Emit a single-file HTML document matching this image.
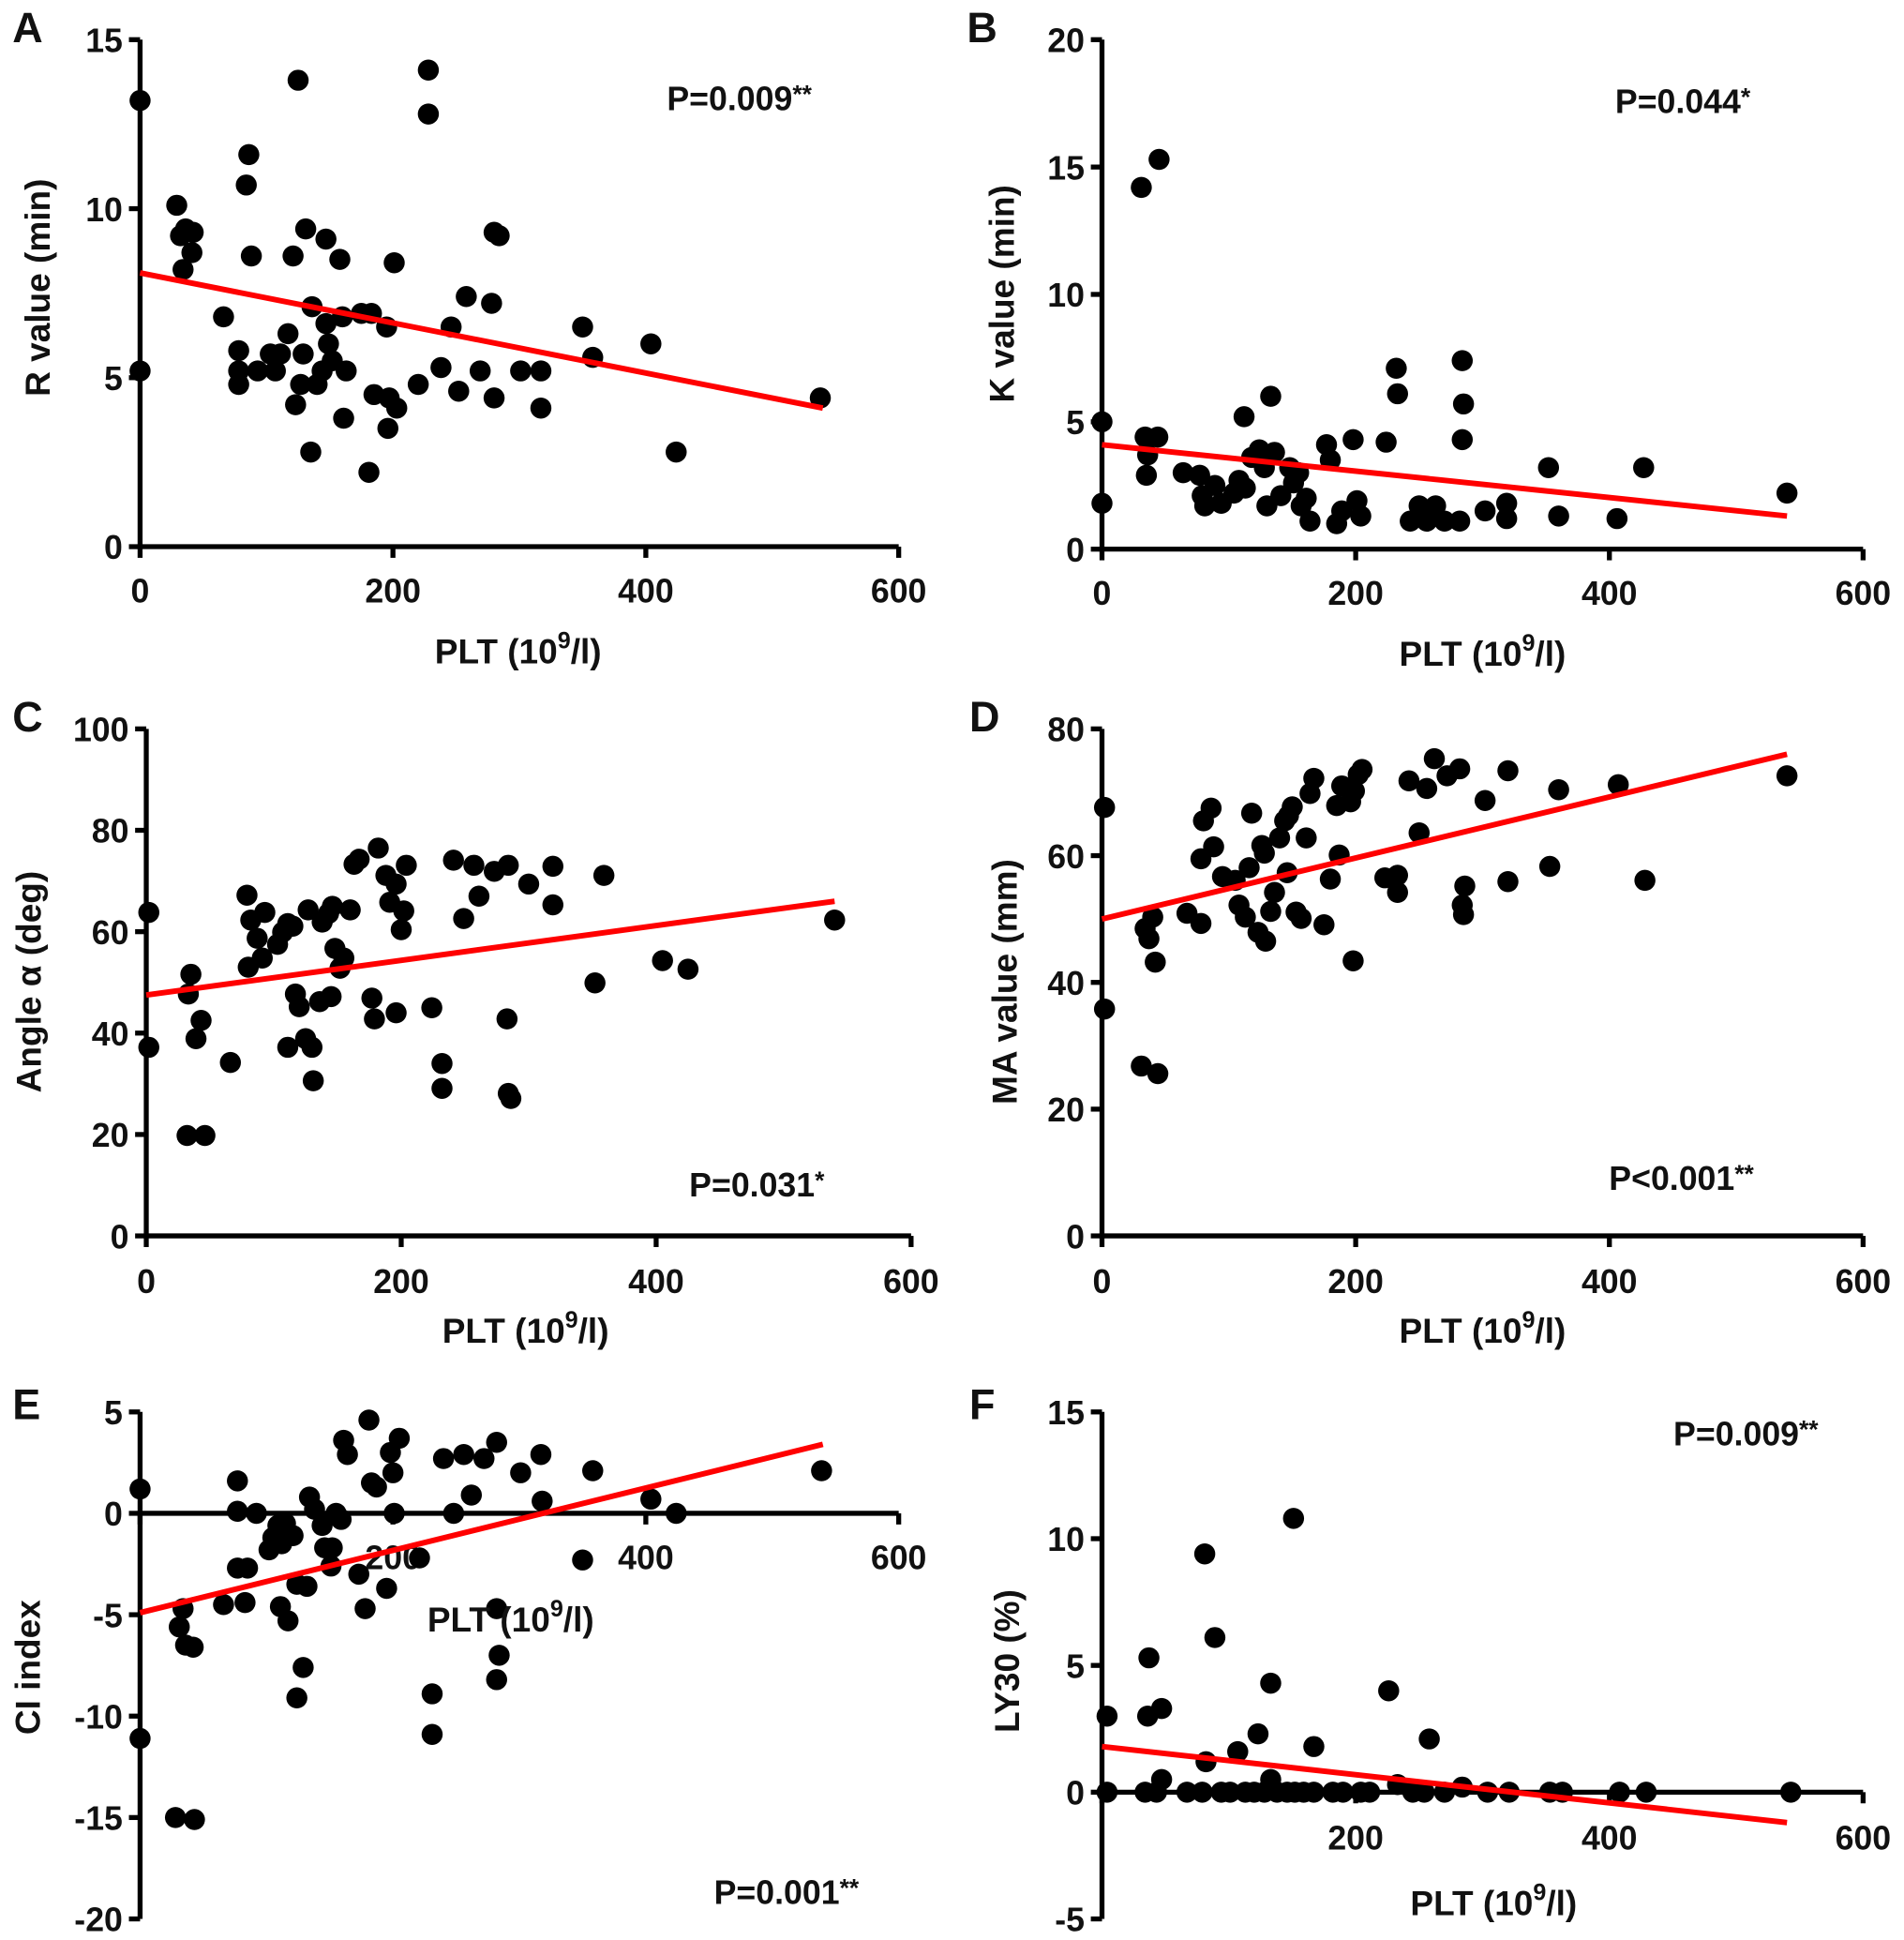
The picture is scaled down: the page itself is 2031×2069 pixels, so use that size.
<!DOCTYPE html>
<html><head><meta charset="utf-8"><style>
html,body{margin:0;padding:0;background:#fff;}
svg{display:block;}
text{font-family:"Liberation Sans",Arial,sans-serif;font-weight:bold;fill:#111;}
</style></head><body>
<svg id="fig" width="2031" height="2069" viewBox="0 0 1536 1565" preserveAspectRatio="none" xmlns="http://www.w3.org/2000/svg"></svg>
<script>
// ---- data ----
const rX=[0,0,29,32,36,42,41,34,66,78,78,78,84,86,88,93,103,107,111,117,121,123,125,129,127,131,135,136,140,144,147,147,149,152,158,160,163,161,175,183,181,185,195,196,197,201,203,220,228,228,238,246,252,258,269,278,280,280,284,301,317,317,350,358,404,424,538];
const rY=[13.2,5.2,10.1,9.2,9.4,9.3,8.7,8.2,6.8,5.8,5.2,4.8,10.7,11.6,8.6,5.2,5.7,5.2,5.7,6.3,8.6,4.2,13.8,5.7,4.8,9.4,2.8,7.1,4.8,5.2,9.1,6.6,6.0,5.5,8.5,6.8,5.2,3.8,6.9,6.9,2.2,4.5,6.5,3.5,4.4,8.4,4.1,4.8,14.1,12.8,5.3,6.5,4.6,7.4,5.2,7.2,4.4,9.3,9.2,5.2,5.2,4.1,6.5,5.6,6.0,2.8,4.4];
const kX=[0,0,31,45,34,44,36,35,64,77,79,81,89,94,104,108,113,112,118,124,128,130,133,136,141,148,151,155,157,161,164,177,180,185,189,198,201,204,224,232,233,243,250,256,263,270,282,284,285,284,302,319,319,352,360,406,427,540];
const kY=[5.0,1.8,14.2,15.3,4.4,4.4,3.7,2.9,3.0,2.9,2.1,1.7,2.5,1.8,2.2,2.7,2.4,5.2,3.6,3.9,3.2,1.7,6.0,3.8,2.1,3.2,2.6,3.0,1.7,2.0,1.1,4.1,3.5,1.0,1.5,4.3,1.9,1.3,4.2,7.1,6.1,1.1,1.7,1.1,1.7,1.1,1.1,7.4,5.7,4.3,1.5,1.8,1.2,3.2,1.3,1.2,3.2,2.2];
const aX=[2,2,32,46,35,33,39,43,66,79,80,82,87,91,93,103,107,111,115,111,117,120,127,125,130,131,136,138,143,146,145,148,152,155,160,163,167,177,182,179,188,191,196,200,202,204,196,224,232,232,241,249,257,261,273,284,283,284,286,300,319,319,352,359,405,425,540];
const aY=[63.8,37.2,19.8,19.8,51.6,47.7,38.9,42.5,34.2,67.2,53,62.3,58.7,54.8,63.8,57.5,59.9,61.6,61.1,37.2,47.7,45.2,64.3,38.9,37.2,30.6,46.2,61.9,63.6,65.0,47.2,56.7,52.8,54.8,64.3,73.3,74.3,46.9,76.5,42.8,71.1,65.8,69.4,60.4,64.1,73.1,44.0,45.0,34.0,29.1,74.1,62.6,73.1,67.0,71.9,73.1,42.8,28.1,27.1,69.4,72.9,65.3,49.9,71.1,54.3,52.6,62.3];
const mX=[2,2,31,44,34,37,40,42,67,78,78,80,86,88,95,105,108,113,116,118,123,126,128,129,133,136,140,144,147,146,150,153,157,161,164,167,175,180,185,187,189,196,199,202,205,198,223,233,233,242,250,256,262,272,282,284,285,286,302,320,320,353,360,407,428,540];
const mY=[67.6,35.8,26.8,25.6,48.5,46.9,50.3,43.2,50.9,49.3,59.5,65.5,67.5,61.4,56.7,56.1,52.2,50.3,58.1,66.7,47.9,61.6,60.4,46.5,51.2,54.2,62.8,65.5,66.3,57.3,67.7,51.1,50.1,62.8,69.8,72.2,49.1,56.3,67.9,60.1,71.0,68.5,70.2,72.8,73.6,43.4,56.5,54.2,56.9,71.8,63.6,70.6,75.3,72.6,73.7,52.2,50.7,55.2,68.7,73.4,55.9,58.3,70.4,71.2,56.1,72.6];
const cX=[0,0,28,43,34,31,36,42,66,77,77,77,83,85,92,102,105,109,112,115,121,111,117,124,124,129,132,134,138,144,146,151,155,159,161,164,152,173,178,181,183,187,195,198,200,201,205,221,231,231,240,248,256,262,272,282,282,284,282,301,317,318,350,358,404,424,539];
const cY=[1.2,-11.1,-15,-15.1,-4.7,-5.6,-6.5,-6.6,-4.5,1.6,0.1,-2.7,-4.4,-2.7,0,-1.8,-1.2,-0.6,-1.5,-0.5,-1.1,-4.6,-5.3,-3.5,-9.1,-7.6,-3.6,0.8,0.2,-0.6,-1.7,-2.6,0,-0.3,3.6,2.9,-1.7,-3.0,-4.7,4.6,1.5,1.3,-3.7,3.0,2.0,0.0,3.7,-2.2,-8.9,-10.9,2.7,0.0,2.9,0.9,2.7,3.5,-4.7,-7.0,-8.2,2.0,2.9,0.6,-2.3,2.1,0.7,0,2.1];
const lX=[4,4,34,37,36,43,47,47,67,79,81,82,89,94,101,107,113,120,123,128,133,133,138,146,151,152,159,167,167,182,190,204,211,226,233,245,254,258,270,284,304,321,353,363,408,429,543];
const lY=[3.0,0,0,5.3,3.0,0,3.3,0.5,0,0,9.4,1.2,6.1,0,0,1.6,0,0,2.3,0,4.3,0.5,0,0,10.8,0,0,1.8,0,0,0,0,0,4.0,0.3,0,0,2.1,0,0.2,0,0,0,0,0,0,0];
const xTicks=[0,200,400,600];
const rTicks=[0,5,10,15], kTicks=[0,5,10,15,20], aTicks=[0,20,40,60,80,100], mTicks=[0,20,40,60,80], cTicks=[5,0,-5,-10,-15,-20], lTicks=[-5,0,5,10,15];
const rFit=[8.1,4.1], kFit=[4.1,1.3], aFit=[47.5,66], mFit=[50,76], cFit=[-4.9,3.4], lFit=[1.8,-1.2];

const svg=document.getElementById('fig');
const NS='http://www.w3.org/2000/svg';
function mk(tag,attrs,parent){const e=document.createElementNS(NS,tag);for(const k in attrs)e.setAttribute(k,attrs[k]);parent.appendChild(e);return e;}

function panel(cfg){
  const g=mk('g',{},svg);
  
  
  const sx=v=>cfg.x0+(v-0)/600*(cfg.x1-cfg.x0);
  const sy=v=>cfg.yb+(v-cfg.ymin)/(cfg.ymax-cfg.ymin)*(cfg.yt-cfg.yb);
  const axY=sy(cfg.xAxisAt);
  const ya=mk('line',{x1:cfg.x0,x2:cfg.x0,y1:cfg.yt,y2:cfg.yb,stroke:'#000','stroke-width':4},g);
  
  
  cfg.yTicks.forEach(t=>{
    mk('line',{x1:cfg.x0-9,x2:cfg.x0,y1:sy(t),y2:sy(t),stroke:'#000','stroke-width':4},g);
    const tx=mk('text',{x:cfg.x0-14,y:sy(t)+10,'text-anchor':'end','font-size':27},g);
    
    
    tx.textContent=t;
  });
  const xa=mk('line',{x1:cfg.x0-2,x2:cfg.x1,y1:axY,y2:axY,stroke:'#000','stroke-width':4},g);
  
  
  xTicks.forEach(t=>{
    mk('line',{x1:sx(t),x2:sx(t),y1:axY,y2:axY+9,stroke:'#000','stroke-width':4},g);
    if(cfg.skipZero && t===0) return;
    const tx=mk('text',{x:sx(t),y:cfg.xLabY,'text-anchor':'middle','font-size':27},g);
    
    
    tx.textContent=t;
  });
  cfg.xs.forEach((v,i)=>{
    const c=mk('circle',{cx:sx(v),cy:sy(cfg.ys[i]),r:8.5,fill:'#000'},g);
    
    
  });
  const fl=mk('line',{x1:sx(0),y1:sy(cfg.fit[0]),x2:sx(540),y2:sy(cfg.fit[1]),stroke:'#f00','stroke-width':4.5},g);
  
  
  const xt=mk('text',{x:cfg.xtX,y:cfg.xtY,'text-anchor':'middle','font-size':28},g);
  
  
  xt.innerHTML='PLT (10<tspan dy="-12" font-size="19">9</tspan><tspan dy="12">/l)</tspan>';
  const yt=mk('text',{x:0,y:0,'text-anchor':'middle','font-size':28,transform:`translate(${cfg.ytX},${cfg.ytY}) rotate(-90)`},g);
  
  
  yt.textContent=cfg.ytitle;
  const p=mk('text',{x:cfg.pX,y:cfg.pY,'font-size':27},g);
  
  
  p.innerHTML=cfg.p+'<tspan font-size="20" dy="-6">'+cfg.stars+'</tspan>';
  const L=mk('text',{x:cfg.lX,y:cfg.lY,'font-size':34},g);
  
  
  L.textContent=cfg.id;
}
panel({id:'A',xs:rX,ys:rY,fit:rFit,yTicks:rTicks,ymin:0,ymax:15,x0:113,x1:725,yt:32,yb:441,xAxisAt:0,xLabY:486,xtX:418,xtY:535,ytX:40,ytY:232,ytitle:'R value (min)',p:'P=0.009',stars:'**',pX:538,pY:89,lX:10,lY:34});
panel({id:'B',xs:kX,ys:kY,fit:kFit,yTicks:kTicks,ymin:0,ymax:20,x0:889,x1:1503,yt:32,yb:443,xAxisAt:0,xLabY:488,xtX:1196,xtY:537,ytX:818,ytY:237,ytitle:'K value (min)',p:'P=0.044',stars:'*',pX:1303,pY:91,lX:780,lY:34});
panel({id:'C',xs:aX,ys:aY,fit:aFit,yTicks:aTicks,ymin:0,ymax:100,x0:118,x1:735,yt:588,yb:997,xAxisAt:0,xLabY:1043,xtX:424,xtY:1083,ytX:33,ytY:792,ytitle:'Angle α (deg)',p:'P=0.031',stars:'*',pX:556,pY:965,lX:10,lY:590});
panel({id:'D',xs:mX,ys:mY,fit:mFit,yTicks:mTicks,ymin:0,ymax:80,x0:889,x1:1503,yt:588,yb:997,xAxisAt:0,xLabY:1043,xtX:1196,xtY:1083,ytX:820,ytY:792,ytitle:'MA value (mm)',p:'P<0.001',stars:'**',pX:1298,pY:960,lX:782,lY:590});
panel({id:'E',skipZero:true,xs:cX,ys:cY,fit:cFit,yTicks:cTicks,ymin:-20,ymax:5,x0:113,x1:725,yt:1139,yb:1548,xAxisAt:0,xLabY:1266,xtX:412,xtY:1316,ytX:32,ytY:1345,ytitle:'CI index',p:'P=0.001',stars:'**',pX:576,pY:1536,lX:10,lY:1145});
panel({id:'F',skipZero:true,xs:lX,ys:lY,fit:lFit,yTicks:lTicks,ymin:-5,ymax:15,x0:889,x1:1503,yt:1139,yb:1548,xAxisAt:0,xLabY:1492,xtX:1205,xtY:1545,ytX:822,ytY:1340,ytitle:'LY30 (%)',p:'P=0.009',stars:'**',pX:1350,pY:1166,lX:782,lY:1145});
</script>
</body></html>
